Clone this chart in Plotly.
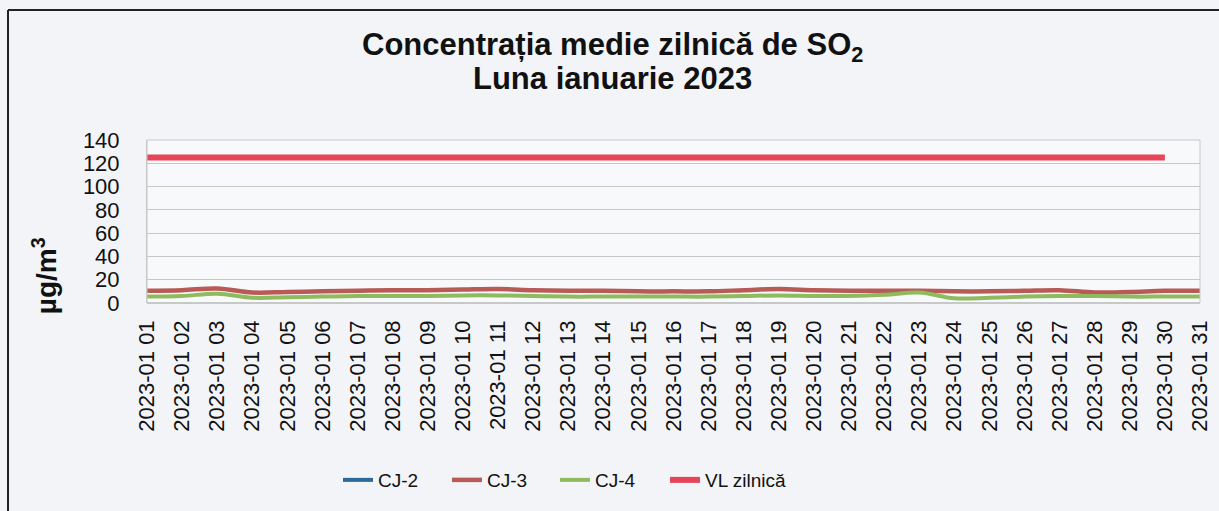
import plotly.graph_objects as go

days = [f"2023-01 {d:02d}" for d in range(1, 32)]
cj2 = [None] * 31
cj3 = [10.5, 11, 12.5, 9, 9.5, 10, 10.5, 11, 11, 11.5, 12, 11, 10.5, 10.5, 10, 10, 10, 11, 12, 11,
       10.5, 10.5, 10.5, 10, 10, 10.5, 11, 9, 9.5, 10.5, 10.5]
cj4 = [5.5, 6, 8, 4.5, 5, 5.5, 6, 6, 6, 6.5, 6.5, 6, 5.5, 5.5, 5.5, 5.5, 5.5, 6, 6.5, 6,
       6, 7, 9, 4, 4.5, 5.5, 6, 6, 5.5, 5.5, 5.5]
vl = [125] * 30 + [None]

fig = go.Figure()
fig.add_trace(go.Scatter(x=days, y=cj2, name="CJ-2", mode="lines", legend="legend",
                         line=dict(color="#2a6b98", width=4)))
fig.add_trace(go.Scatter(x=days, y=cj3, name="CJ-3", mode="lines", legend="legend2",
                         line=dict(color="#b85a55", width=4.5, shape="spline")))
fig.add_trace(go.Scatter(x=days, y=cj4, name="CJ-4", mode="lines", legend="legend3",
                         line=dict(color="#8dbb5e", width=4, shape="spline")))
fig.add_trace(go.Scatter(x=days, y=vl, name="VL zilnică", mode="lines", legend="legend4",
                         line=dict(color="#e64558", width=6)))

font = "Liberation Sans, Arial, sans-serif"
leg_y = -1.086


def leg(x):
    return dict(orientation="h", x=x, xanchor="left", y=leg_y, yanchor="middle",
                font=dict(size=19, family=font, color="#111"), bgcolor="rgba(0,0,0,0)")


fig.update_layout(
    width=1219, height=511,
    margin=dict(l=147, r=19, t=140, b=208, autoexpand=False),
    paper_bgcolor="#f3f4f8", plot_bgcolor="#f8f9fb",
    font=dict(family=font, size=22, color="#111"),
    showlegend=True,
    legend=leg(0.1814), legend2=leg(0.2849), legend3=leg(0.3875), legend4=leg(0.4919),
    xaxis=dict(type="category", tickangle=-90, showgrid=False, showline=False,
               ticks="", tickfont=dict(size=22), ticklabelstandoff=12),
    yaxis=dict(range=[0, 140], dtick=20, showgrid=True, gridcolor="#c8c8c8", gridwidth=1,
               zeroline=True, zerolinecolor="#c8c8c8", showline=True, linecolor="#c8c8c8",
               tickfont=dict(size=22), ticklabelstandoff=22, ticks=""),
    annotations=[
        dict(text="<b>Concentrația medie zilnică de SO<sub>2</sub></b>", xref="paper", yref="paper",
             x=0.442, y=1.57, xanchor="center", yanchor="middle", showarrow=False,
             font=dict(size=31, family=font, color="#111")),
        dict(text="<b>Luna ianuarie 2023</b>", xref="paper", yref="paper",
             x=0.442, y=1.375, xanchor="center", yanchor="middle", showarrow=False,
             font=dict(size=31, family=font, color="#111")),
        dict(text="<b>µg/m<sup>3</sup></b>", xref="paper", yref="paper",
             x=-0.097, y=0.17, xanchor="center", yanchor="middle", showarrow=False,
             textangle=-90, font=dict(size=28, family=font, color="#111")),
    ],
    shapes=[
        dict(type="line", xref="paper", yref="paper", x0=-0.132, x1=-0.132, y0=1.797, y1=-1.3,
             line=dict(color="#222", width=2)),
        dict(type="line", xref="paper", yref="paper", x0=-0.132, x1=1.02, y0=1.797, y1=1.797,
             line=dict(color="#222", width=2)),
        dict(type="rect", xref="paper", yref="paper", x0=0, x1=1, y0=0, y1=1,
             line=dict(color="#c8c8c8", width=1)),
    ],
)
fig.write_html("out.html", config={"displayModeBar": False},
               post_script="document.body.style.margin='0';document.body.style.overflow='hidden';")
